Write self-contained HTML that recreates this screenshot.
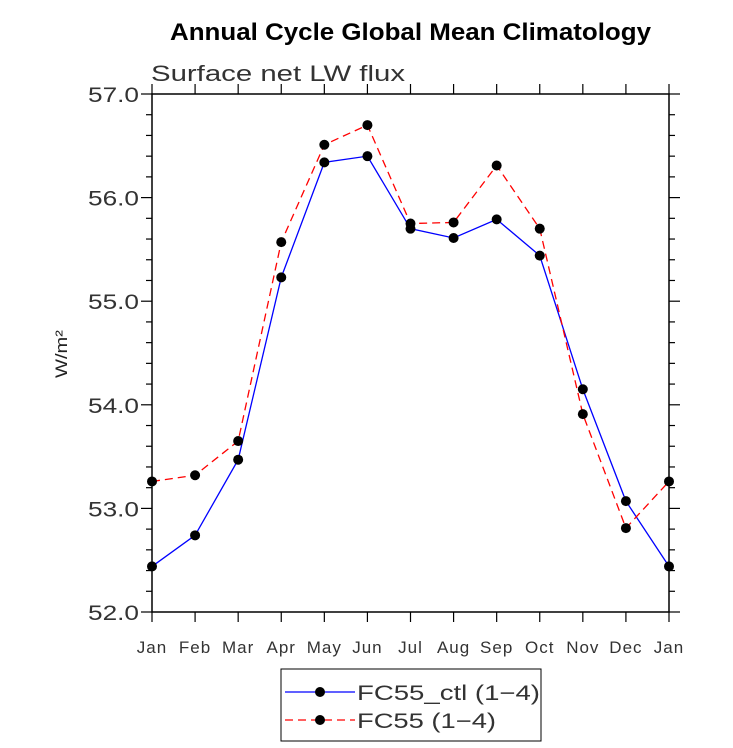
<!DOCTYPE html>
<html><head><meta charset="utf-8"><style>
body{margin:0;background:#fff;}
svg{display:block;font-family:"Liberation Sans",sans-serif;}
</style></head><body>
<svg id="chart" width="733" height="748">
<text x="170" y="40" textLength="481" lengthAdjust="spacingAndGlyphs" font-size="24" font-weight="bold">Annual Cycle Global Mean Climatology</text>
<text x="151" y="81" textLength="254" lengthAdjust="spacingAndGlyphs" font-size="22" fill="#333">Surface net LW flux</text>
<text transform="translate(67,354) rotate(-90)" text-anchor="middle" textLength="48" lengthAdjust="spacingAndGlyphs" font-size="17" fill="#222">W/m²</text>
<g id="axes"></g>
<g id="series"></g>
<g>
<rect x="281" y="669" width="260" height="72" fill="#fff" stroke="#000" stroke-width="1"/>
<line x1="285" y1="692" x2="355" y2="692" stroke="#0000ff" stroke-width="1.2"/>
<circle cx="320" cy="692" r="5" fill="#000"/>
<text x="357" y="700" textLength="183" lengthAdjust="spacingAndGlyphs" font-size="21" fill="#333">FC55_ctl (1−4)</text>
<line x1="285" y1="720" x2="355" y2="720" stroke="#ff0000" stroke-width="1.2" stroke-dasharray="8,5"/>
<circle cx="320" cy="720" r="5" fill="#000"/>
<text x="357" y="728" textLength="139" lengthAdjust="spacingAndGlyphs" font-size="21" fill="#333">FC55 (1−4)</text>
</g>
</svg>
<script>
const months = ["Jan","Feb","Mar","Apr","May","Jun","Jul","Aug","Sep","Oct","Nov","Dec","Jan"];
const ctlValues = [52.44,52.74,53.47,55.23,56.34,56.40,55.70,55.61,55.79,55.44,54.15,53.07,52.44];
const fc55Values = [53.26,53.32,53.65,55.57,56.51,56.70,55.75,55.76,56.31,55.70,53.91,52.81,53.26];
const yTicks = ["52.0","53.0","54.0","55.0","56.0","57.0"];
const NS="http://www.w3.org/2000/svg";
const L=152,R=669,T=94,B=612,yMin=52,yMax=57;
const xs=i=>L+(R-L)*i/(months.length-1);
const ys=v=>B-(v-yMin)/(yMax-yMin)*(B-T);
function mk(tag,attrs,parent){const e=document.createElementNS(NS,tag);for(const k in attrs)e.setAttribute(k,attrs[k]);parent.appendChild(e);return e;}
const ax=document.getElementById('axes');
const frame=mk('rect',{x:L,y:T,width:R-L,height:B-T,fill:'none',stroke:'#000','stroke-width':1.5},ax);


for(let v=52;v<=57.001;v+=0.2){
  const major=Math.abs(v-Math.round(v))<1e-6;const y=ys(v);const len=major?11:6;
  mk('line',{x1:L-len,y1:y,x2:L,y2:y,stroke:'#000','stroke-width':1.2},ax);
  mk('line',{x1:R,y1:y,x2:R+len,y2:y,stroke:'#000','stroke-width':1.2},ax);
}
yTicks.forEach(t=>{const tx=mk('text',{x:88,y:ys(parseFloat(t))+8,textLength:51,lengthAdjust:'spacingAndGlyphs','font-size':21,fill:'#333'},ax);tx.textContent=t;

});
months.forEach((m,i)=>{const x=xs(i);
  mk('line',{x1:x,y1:B,x2:x,y2:B+10,stroke:'#000','stroke-width':1.2},ax);
  mk('line',{x1:x,y1:T-10,x2:x,y2:T,stroke:'#000','stroke-width':1.2},ax);
  const tx=mk('text',{x:x,y:B+41,'text-anchor':'middle','letter-spacing':1,'font-size':17,fill:'#333'},ax);tx.textContent=m;
  
  
});
const sg=document.getElementById('series');
function series(vals,color,dash,name){
  const p=mk('polyline',{points:vals.map((v,i)=>xs(i)+','+ys(v)).join(' '),fill:'none',stroke:color,'stroke-width':1.3,'stroke-dasharray':dash},sg);
  
  
  vals.forEach((v,i)=>{const c=mk('circle',{cx:xs(i),cy:ys(v),r:5,fill:'#000'},sg);
    
    });
}
series(ctlValues,'#0000ff','none','ctl');
series(fc55Values,'#ff0000','8,5','fc55');
</script>
</body></html>
